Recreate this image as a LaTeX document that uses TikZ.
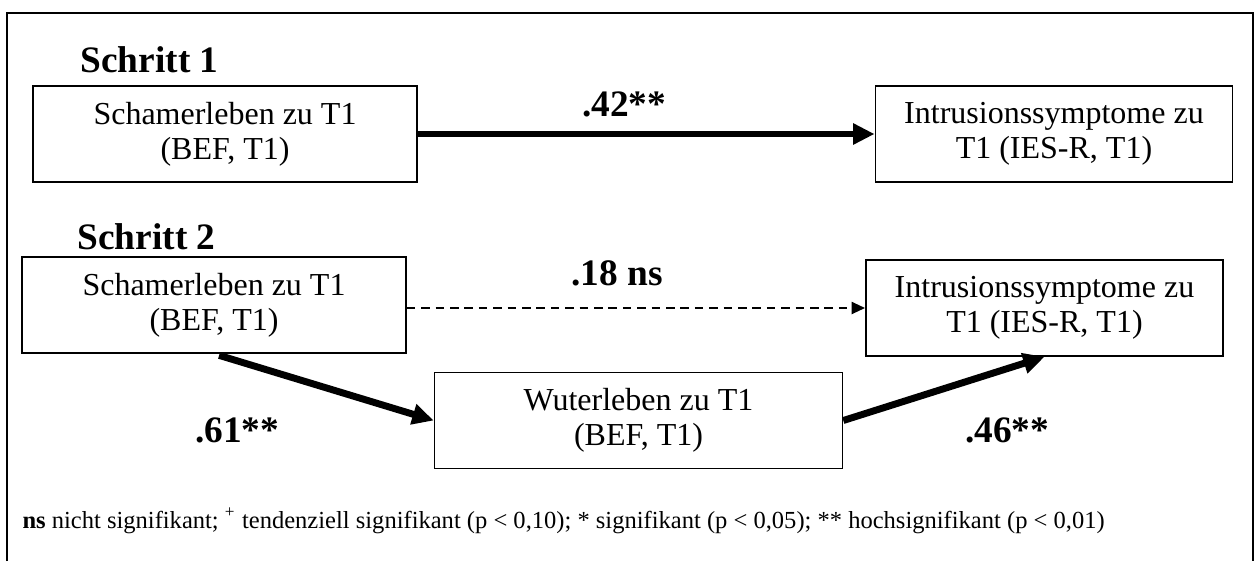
\documentclass[tikz,border=0pt]{standalone}
\usepackage{fontspec}
\setmainfont{Liberation Serif}
\usetikzlibrary{arrows.meta,positioning}
\tikzset
{
    varbox/.style    = {rectangle, draw=black, line width=0.6pt, align=center, inner sep=0pt, minimum height=36pt, font=\fontsize{12}{13.2}\selectfont},
    steplabel/.style = {anchor=base west, inner sep=0pt, font=\fontsize{14}{16}\selectfont\bfseries},
    coeff/.style     = {inner sep=0pt, font=\fontsize{14}{16}\selectfont\bfseries},
    strongpath/.style = {line width=2.6pt, -{Triangle[length=8pt,width=7.5pt]}},
    weakpath/.style   = {line width=0.7pt, dash pattern=on 3.2pt off 2.2pt, -{Triangle[length=5pt,width=4.5pt]}}
}

\begin{document}
\begin{tikzpicture}[x=0.375pt, y=-0.375pt]
\useasboundingbox (0,0) rectangle (1259,561);
%% frame, open at the bottom
\draw[line width=0.75pt] (7,561) -- (7,13) -- (1253,13) -- (1253,561);

%% step 1
\node (step1)  [steplabel] at (80,72) {Schritt 1};
\node (shame1) [varbox, minimum width=144pt] at (225,134) {Schamerleben zu T1\\(BEF, T1)};
\node (intr1)  [varbox, minimum width=134pt] at (1054,134) {Intrusionssymptome zu\\T1 (IES-R, T1)};
\node (c42)    [coeff] at (624,104) {.42**};

\path (shame1) edge[strongpath] (intr1);

%% step 2
\node (step2)  [steplabel] at (77,249) {Schritt 2};
\node (shame2) [varbox, minimum width=144pt] at (214,305) {Schamerleben zu T1\\(BEF, T1)};
\node (intr2)  [varbox, minimum width=134pt] at (1044.5,308) {Intrusionssymptome zu\\T1 (IES-R, T1)};
\node (anger)  [varbox, minimum width=153pt] at (638.5,420.5) {Wuterleben zu T1\\(BEF, T1)};
\node (c18)    [coeff] at (617,273) {.18 ns};
\node (c61)    [coeff] at (237,430) {.61**};
\node (c46)    [coeff] at (1007,430) {.46**};

\draw[weakpath] (shame2.east |- intr2) -- (intr2);
\draw[strongpath, shorten <=2pt] (shame2.south) -- (anger.west);
\draw[strongpath] (anger.east) -- (intr2.south);

%% note
\node (note) [anchor=base west, inner sep=0pt, font=\fontsize{9.2}{11}\selectfont] at (22,528)
  {\textbf{ns} nicht signifikant; \textsuperscript{+} tendenziell signifikant (p < 0,10); * signifikant (p < 0,05); ** hochsignifikant (p < 0,01)};
\end{tikzpicture}
\end{document}
